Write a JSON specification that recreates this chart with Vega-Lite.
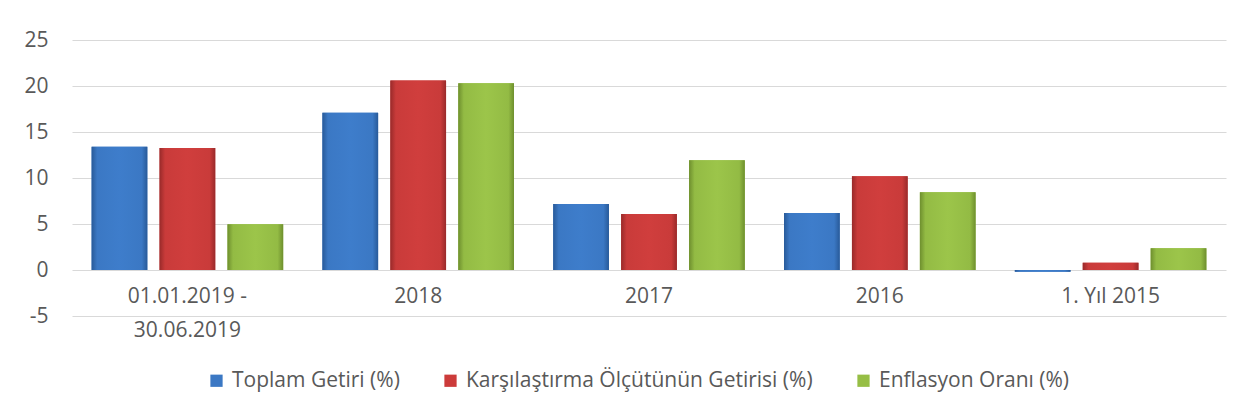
{
  "$schema": "https://vega.github.io/schema/vega-lite/v6.json",
  "autosize": {"type": "none"},
  "width": 1154,
  "height": 276,
  "padding": {"left": 72, "top": 40, "right": 8, "bottom": 98},
  "background": "white",
  "config": {
    "font": "Open Sans",
    "view": {"stroke": null},
    "axis": {"labelColor": "#595959", "labelFontSize": 21, "labelFont": "Open Sans"}
  },
  "data": {
    "values": [
      {"donem": "01.01.2019 - 30.06.2019", "seri": "Toplam Getiri (%)", "deger": 13.4},
      {"donem": "01.01.2019 - 30.06.2019", "seri": "Karşılaştırma Ölçütünün Getirisi (%)", "deger": 13.25},
      {"donem": "01.01.2019 - 30.06.2019", "seri": "Enflasyon Oranı (%)", "deger": 4.97},
      {"donem": "2018", "seri": "Toplam Getiri (%)", "deger": 17.1},
      {"donem": "2018", "seri": "Karşılaştırma Ölçütünün Getirisi (%)", "deger": 20.6},
      {"donem": "2018", "seri": "Enflasyon Oranı (%)", "deger": 20.3},
      {"donem": "2017", "seri": "Toplam Getiri (%)", "deger": 7.17},
      {"donem": "2017", "seri": "Karşılaştırma Ölçütünün Getirisi (%)", "deger": 6.1},
      {"donem": "2017", "seri": "Enflasyon Oranı (%)", "deger": 11.92},
      {"donem": "2016", "seri": "Toplam Getiri (%)", "deger": 6.2},
      {"donem": "2016", "seri": "Karşılaştırma Ölçütünün Getirisi (%)", "deger": 10.2},
      {"donem": "2016", "seri": "Enflasyon Oranı (%)", "deger": 8.45},
      {"donem": "1. Yıl 2015", "seri": "Toplam Getiri (%)", "deger": -0.2},
      {"donem": "1. Yıl 2015", "seri": "Karşılaştırma Ölçütünün Getirisi (%)", "deger": 0.8},
      {"donem": "1. Yıl 2015", "seri": "Enflasyon Oranı (%)", "deger": 2.36}
    ]
  },
  "encoding": {
    "x": {
      "field": "donem", "type": "nominal", "sort": null,
      "scale": {"paddingInner": 0.17, "paddingOuter": 0.085},
      "axis": {
        "title": null, "labelAngle": 0, "ticks": false, "domain": false,
        "offset": -46, "labelPadding": 15, "labelLineHeight": 34,
        "labelExpr": "datum.label == '01.01.2019 - 30.06.2019' ? ['01.01.2019 -', '30.06.2019'] : datum.label"
      }
    },
    "xOffset": {
      "field": "seri", "type": "nominal", "sort": null,
      "scale": {"paddingInner": 0.18, "paddingOuter": 0}
    },
    "y": {
      "field": "deger", "type": "quantitative",
      "scale": {"domain": [-5, 25], "nice": false, "zero": false},
      "axis": {
        "title": null, "values": [-5, 0, 5, 10, 15, 20, 25],
        "ticks": false, "domain": false, "grid": true,
        "gridColor": "#D9D9D9", "gridWidth": 1, "labelPadding": 24,
        "labelExpr": "replace(datum.label, '\u2212', '-')"
      }
    }
  },
  "layer": [
    {
      "mark": {"type": "bar"},
      "encoding": {
        "y2": {"datum": 0},
        "color": {
          "field": "seri", "type": "nominal", "sort": null,
          "scale": {
            "domain": ["Toplam Getiri (%)", "Karşılaştırma Ölçütünün Getirisi (%)", "Enflasyon Oranı (%)"],
            "range": ["#3B78C4", "#CC3B3A", "#96BE45"]
          },
          "legend": {
            "title": null, "orient": "none", "direction": "horizontal",
            "legendX": 134, "legendY": 330,
            "symbolType": "square", "symbolSize": 150, "symbolStrokeWidth": 0,
            "labelFontSize": 21, "labelColor": "#595959", "labelFont": "Open Sans",
            "labelLimit": 0, "columnPadding": 40, "labelOffset": 5
          }
        }
      }
    },
    {
      "transform": [{"filter": "datum.seri == 'Toplam Getiri (%)'"}],
      "mark": {
        "type": "bar",
        "fill": {"gradient": "linear", "x1": 0, "x2": 1, "y1": 0, "y2": 0,
          "stops": [{"offset": 0, "color": "#285A99"}, {"offset": 0.1, "color": "#3B78C4"}, {"offset": 0.5, "color": "#3E7DCB"}, {"offset": 0.9, "color": "#3B78C4"}, {"offset": 1, "color": "#285A99"}]}
      },
      "encoding": {"y2": {"datum": 0}}
    },
    {
      "transform": [{"filter": "datum.seri == 'Karşılaştırma Ölçütünün Getirisi (%)'"}],
      "mark": {
        "type": "bar",
        "fill": {"gradient": "linear", "x1": 0, "x2": 1, "y1": 0, "y2": 0,
          "stops": [{"offset": 0, "color": "#992A2A"}, {"offset": 0.1, "color": "#C93B3A"}, {"offset": 0.5, "color": "#D03E3D"}, {"offset": 0.9, "color": "#C93B3A"}, {"offset": 1, "color": "#992A2A"}]}
      },
      "encoding": {"y2": {"datum": 0}}
    },
    {
      "transform": [{"filter": "datum.seri == 'Enflasyon Oranı (%)'"}],
      "mark": {
        "type": "bar",
        "fill": {"gradient": "linear", "x1": 0, "x2": 1, "y1": 0, "y2": 0,
          "stops": [{"offset": 0, "color": "#6E8F2E"}, {"offset": 0.1, "color": "#93BB44"}, {"offset": 0.5, "color": "#9CC54A"}, {"offset": 0.9, "color": "#93BB44"}, {"offset": 1, "color": "#6E8F2E"}]}
      },
      "encoding": {"y2": {"datum": 0}}
    }
  ]
}
